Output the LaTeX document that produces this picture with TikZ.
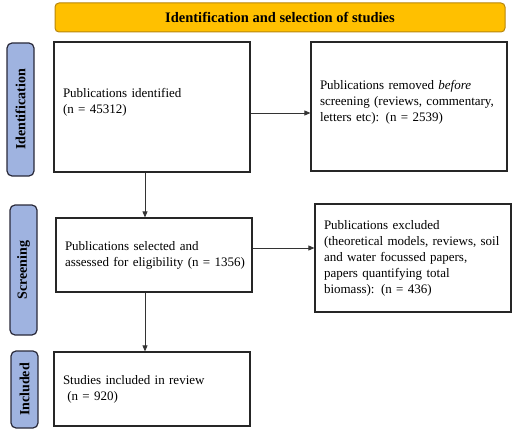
\documentclass[tikz,border=0pt]{standalone}
\usepackage{fontspec}
\setmainfont{Liberation Serif}
\usetikzlibrary{arrows.meta}
\definecolor{titlegold}{HTML}{FFC000}
\definecolor{titleedge}{HTML}{B8860B}
\definecolor{sideblue}{HTML}{9FB3E0}
\definecolor{sideedge}{HTML}{2A2A3A}
\begin{document}
\begin{tikzpicture}[x=1pt,y=-1pt,
  titlebar/.style={draw=titleedge,fill=titlegold,line width=1pt,rounded corners=4pt,
    minimum width=450pt,minimum height=29pt,inner sep=0pt,
    font=\fontsize{14.5}{16}\selectfont\bfseries},
  sidelabel/.style={draw=sideedge,fill=sideblue,line width=1.2pt,rounded corners=5pt,
    rotate=90,minimum height=27pt,inner sep=0pt,
    font=\fontsize{14}{16}\selectfont\bfseries},
  flowbox/.style={draw=black!85,line width=1.2pt,minimum width=196pt,inner xsep=9pt,
    text width=178pt,align=left,font=\fontsize{13}{16}\selectfont},
  flowarrow/.style={draw=black!80,line width=0.8pt,-{Triangle[length=6pt,width=5pt]}}
]
\useasboundingbox (0,0) rectangle (520,436);
\node[titlebar] (title) at (280,17.5) {Identification and selection of studies};
\node[sidelabel,minimum width=133pt] (lid) at (20.5,109.5) {Identification};
\node[sidelabel,minimum width=130pt] (lsc) at (23.5,270) {Screening};
\node[sidelabel,minimum width=77pt] (lin) at (24.5,389.5) {Included};

\node[flowbox,minimum height=130pt] (ident) at (152,107) {Publications identified\\(n = 45312)\\[-4pt]\mbox{}};
\node[flowbox,minimum height=129pt] (removed) at (409,106.5) {Publications removed \emph{before}\\screening (reviews, commentary,\\letters etc): (n = 2539)\\[-4pt]\mbox{}};
\node[flowbox,minimum height=74pt] (select) at (154,255) {Publications selected and\\\mbox{assessed for eligibility (n = 1356)}};
\node[flowbox,minimum height=108pt] (excl) at (413,258) {Publications excluded\\(theoretical models, reviews, soil\\and water focussed papers,\\papers quantifying total\\biomass): (n = 436)};
\node[flowbox,minimum height=74pt] (incl) at (152,389) {Studies included in review\\\ (n = 920)};

\coordinate (a1) at (ident.east |- 0,113);
\draw[flowarrow] (a1) -- (a1 -| removed.west);
\draw[flowarrow] (ident.south -| 145,0) -- (select.north -| 145,0);
\draw[flowarrow] (select.east |- 0,248) -- (excl.west |- 0,248);
\draw[flowarrow] (select.south -| 145,0) -- (incl.north -| 145,0);
\end{tikzpicture}
\end{document}
